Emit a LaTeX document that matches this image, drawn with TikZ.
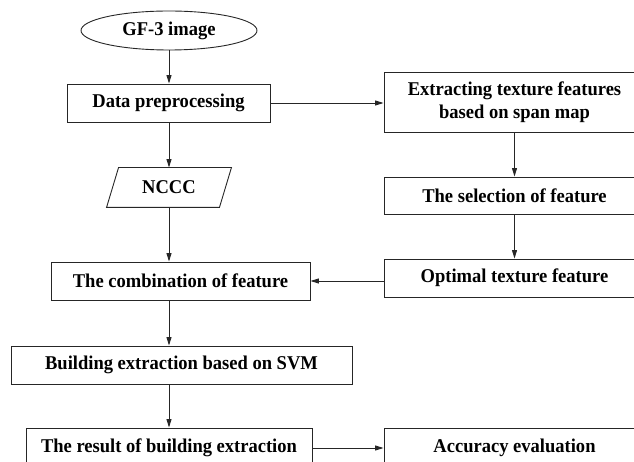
\documentclass[tikz,border=0pt]{standalone}
\usepackage{fontspec}
\setmainfont{Liberation Serif}[FakeStretch=0.95]
\usetikzlibrary{arrows.meta,shapes.geometric}

\tikzset{
  base/.style={draw=black!85, line width=0.9bp, align=center, inner sep=0pt,
    font=\fontsize{19.5bp}{22.5bp}\selectfont\bfseries},
  box/.style={base, rectangle},
  oval/.style={base, ellipse},
  flow/.style={draw=black!85, line width=0.9bp, -{Triangle[length=8.5bp,width=5bp]}},
}

\begin{document}
\begin{tikzpicture}[x=1bp, y=-1bp]
\useasboundingbox (0,0) rectangle (634,462);
\clip (0,0) rectangle (634,462);

% left column
\node[oval, minimum width=176bp, minimum height=39bp] (img) at (169,30.5) {GF-3 image};
\node[box, minimum width=203bp, minimum height=38bp] (prep) at (168.5,103) {Data preprocessing};
\node[base, draw=none, minimum width=112bp, minimum height=39bp] (nccc) at (169,187.5) {NCCC};
\draw[draw=black!85, line width=0.9bp]
  ([xshift=6bp]nccc.north west) -- ([xshift=6bp]nccc.north east)
  -- ([xshift=-6bp]nccc.south east) -- ([xshift=-6bp]nccc.south west) -- cycle;
\node[box, minimum width=259bp, minimum height=38bp] (comb) at (180.5,281) {The combination of feature};
\node[box, minimum width=341bp, minimum height=38bp] (svm) at (181.5,365) {Building extraction based on SVM};
\node[box, minimum width=286bp, minimum height=40bp] (res) at (169,448) {The result of building extraction};

% right column
\node[box, minimum width=261bp, minimum height=60bp] (ext) at (514.5,102) {Extracting texture features\\based on span map};
\node[box, minimum width=261bp, minimum height=37bp] (sel) at (514.5,195.5) {The selection of feature};
\node[box, minimum width=261bp, minimum height=38bp] (opt) at (514.5,278) {Optimal texture feature};
\node[box, minimum width=261bp, minimum height=40bp] (acc) at (514.5,448) {Accuracy evaluation};

% connectors
\draw[flow] (img.south) -- (img.south |- prep.north);
\draw[flow] (nccc.north |- prep.south) -- (nccc.north);
\draw[flow] (nccc.south) -- (nccc.south |- comb.north);
\draw[flow] (nccc.south |- comb.south) -- (nccc.south |- svm.north);
\draw[flow] (res.north |- svm.south) -- (res.north);
\draw[flow] (prep.east) -- (prep.east -| ext.west);
\draw[flow] (ext.south) -- (sel.north);
\draw[flow] (sel.south) -- (opt.north);
\draw[flow] (comb.east -| opt.west) -- (comb.east);
\draw[flow] (res.east) -- (res.east -| acc.west);
\end{tikzpicture}
\end{document}
